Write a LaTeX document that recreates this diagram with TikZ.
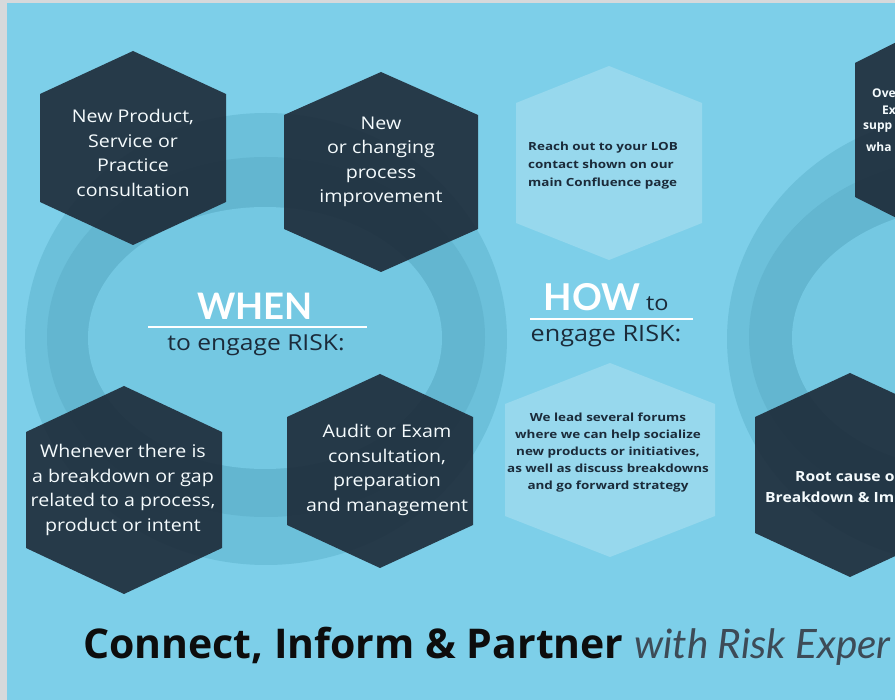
\documentclass[tikz,border=0pt]{standalone}
\usepackage{fontspec}
\setmainfont{Open Sans}[FakeStretch=1.12]
\newfontfamily\headfont{Lato}
\newfontfamily\plainfont{Open Sans}
\newfontfamily\widefont{Open Sans}[FakeStretch=1.2]
\usetikzlibrary{positioning}

\definecolor{skyblue}{HTML}{7DCFE9}
\definecolor{ringout}{HTML}{6CC0DA}
\definecolor{ringmid}{HTML}{63B6D0}
\definecolor{ringin}{HTML}{74C8E2}
\definecolor{hexdark}{HTML}{1D2A38}
\definecolor{navytext}{HTML}{1B2B3A}
\definecolor{framegray}{HTML}{D6D9DB}

\tikzset{
  darkhex/.style={fill=hexdark,fill opacity=.9},
  lighthex/.style={fill=white,fill opacity=.2},
  hextext/.style={text=white!92!skyblue,align=center,font=\fontsize{17.5}{24.5}\selectfont},
  howtext/.style={text=navytext,font=\widefont\bfseries\fontsize{11.2}{17}\selectfont},
  cuttext/.style={text=white!92!skyblue,anchor=west,inner sep=0pt,font=\plainfont\bfseries\fontsize{12}{18}\selectfont},
}

% hexagon: style, centre x, centre y, half width, half side, tip
\newcommand{\hexcell}[6]{\fill[#1] (#2,#3) +(0,-#6) -- +(#4,-#5) -- +(#4,#5) -- +(0,#6) -- +(-#4,#5) -- +(-#4,-#5) -- cycle;}

\begin{document}
\begin{tikzpicture}[x=1pt,y=-1pt]
    \useasboundingbox (0,0) rectangle (895,700);
    \clip (0,0) rectangle (895,700);
    \fill[framegray] (0,0) rectangle (895,700);
    \fill[skyblue] (7,3) rectangle (895,700);

    % rings
    \fill[ringout] (266,339) ellipse [x radius=241,y radius=226];
    \fill[ringmid] (266,337) ellipse [x radius=219,y radius=180];
    \fill[ringin] (265,338) ellipse [x radius=177,y radius=131];
    \fill[ringout] (968,339) ellipse [x radius=241,y radius=226];
    \fill[ringmid] (968,337) ellipse [x radius=219,y radius=180];
    \fill[ringin] (969,338) ellipse [x radius=177,y radius=131];

    % hexagons
    \hexcell{darkhex}{133}{148}{93}{54}{97}
    \hexcell{darkhex}{381}{172}{97}{57}{100}
    \hexcell{darkhex}{124}{490}{98}{58}{104}
    \hexcell{darkhex}{380}{471}{93}{54}{97}
    \hexcell{lighthex}{609}{163}{93}{60}{97}
    \hexcell{lighthex}{610}{460}{105}{56}{97}
    \hexcell{darkhex}{950}{130}{95}{67}{115}
    \hexcell{darkhex}{850}{475}{95}{58}{102}

    \node[hextext] (newproduct) at (133,153) {New Product,\\Service or\\Practice\\consultation};
    \node[hextext] (changing) at (381,162) {New\\or changing\\process\\improvement};
    \node[hextext] (breakdown) at (123,490) {Whenever there is\\a breakdown or gap\\related to a process,\\product or intent};
    \node[hextext] (audit) at (387,470) {Audit or Exam\\consultation,\\preparation\\and management};
    \node[howtext,align=left,anchor=west,inner xsep=0pt,font=\widefont\bfseries\fontsize{11.2}{18}\selectfont] (reach) at (528,166) {Reach out to your LOB\\contact shown on our\\main Confluence page};
    \node[howtext,align=center] (forums) at (608,453) {We lead several forums\\where we can help socialize\\new products or initiatives,\\as well as discuss breakdowns\\and go forward strategy};

    % cut off at the right edge
    \node[cuttext] (ove) at (872,93) {Ove};
    \node[cuttext] (ex) at (882,110) {Ex};
    \node[cuttext] (supp) at (863,128) {supp};
    \node[cuttext] (wha) at (866,147) {wha};
    \node[cuttext,font=\bfseries\fontsize{14}{18}\selectfont] (rootcause) at (795,477) {Root cause o};
    \node[cuttext,font=\bfseries\fontsize{14}{18}\selectfont] (breakim) at (765,497) {Breakdown \& Im};

    % headings
    \node[text=white,font=\headfont\bfseries\fontsize{36.5}{36}\selectfont] (when) at (255,306) {WHEN};
    \draw[white,line width=2.5pt] (148,327) -- (367,327);
    \node[text=navytext,font=\fontsize{22}{22}\selectfont] (engagewhen) at (256,345) {to engage RISK:};
    \node[text=white,font=\headfont\bfseries\fontsize{37}{37}\selectfont] (how) at (592,297) {HOW};
    \node[text=navytext,anchor=base west,inner xsep=2pt,font=\fontsize{21}{21}\selectfont] (howto) at (how.base east) {to};
    \draw[white,line width=2.5pt] (530,319) -- (693,319);
    \node[text=navytext,font=\fontsize{22.5}{22}\selectfont] (engagehow) at (606,336) {engage RISK:};

    % title
    \node[anchor=base west,inner sep=0pt,text=black!95,font=\plainfont\bfseries\fontsize{41}{41}\selectfont] (title) at (83,658) {Connect, Inform \& Partner};
    \node[inner sep=0pt,text=navytext!85,font=\headfont\itshape\fontsize{40.5}{41}\selectfont,right=10pt of title.base east,anchor=base west] (riskexp) {with Risk Exper};
\end{tikzpicture}
\end{document}
